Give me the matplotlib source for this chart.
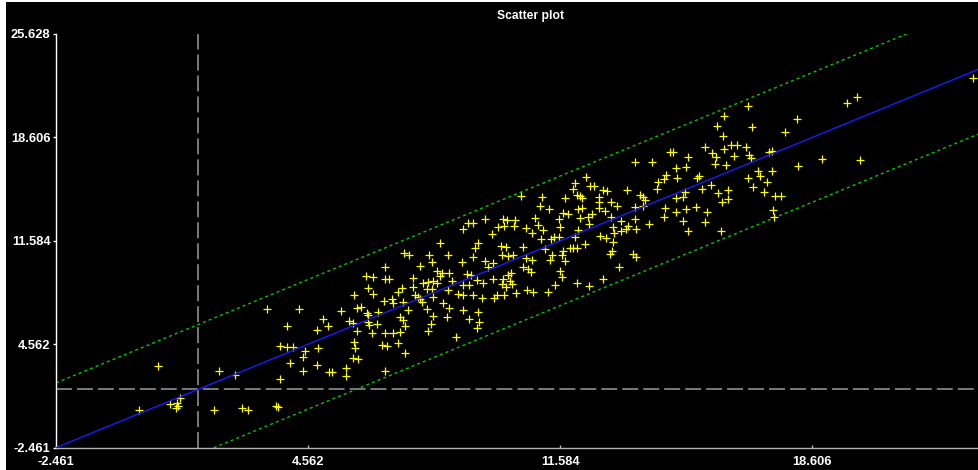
import matplotlib
matplotlib.use('Agg')
import matplotlib.pyplot as plt
from matplotlib.patches import Rectangle

plt.rcParams['lines.scale_dashes'] = False

# ---- data ----
x_vals = [
    23.09, 19.86, 19.58, 16.81, 16.14, 18.17, 19.93,
    15.96, 16.92, 17.85, 16.11, 15.62, 16.33, 16.52, 16.76, 16.15, 17.40, 17.47, 14.63, 14.73,
    15.14, 15.82, 15.91, 16.43, 16.85, 16.89, 13.68, 14.13, 15.90, 16.19, 18.22, 18.87, 17.08,
    17.16, 17.47, 14.80, 15.08, 16.82, 17.34, 15.44, 15.39, 14.32, 14.47, 14.52, 14.83, 15.79,
    16.95, 14.27, 15.53, 12.29, 12.00, 11.94, 12.41, 12.53, 13.45, 12.77, 12.88, 15.99, 16.27,
    17.27, 17.57, 17.73, 16.27, 16.08, 10.48, 11.07, 11.72, 12.04, 12.14, 12.19, 12.66, 12.66,
    13.01, 13.81, 13.88, 13.95, 14.80, 15.00, 15.06, 11.02, 11.27, 11.65, 11.79, 12.09, 12.20,
    12.67, 13.17, 12.82, 13.66, 13.90, 14.50, 14.80, 15.09, 15.37, 15.66, 10.88, 11.56, 12.14,
    12.35, 12.47, 13.01, 13.67, 14.48, 15.00, 15.62, 17.50, 17.53, 9.98, 10.09, 10.32, 10.02,
    10.30, 10.63, 10.97, 11.11, 11.58, 12.09, 12.38, 12.69, 12.87, 13.06, 13.08, 13.27, 13.27,
    13.42, 13.48, 13.69, 14.05, 15.14, 16.07, 10.81, 11.05, 11.32, 11.42, 11.56, 12.00, 12.27,
    13.06, 10.08, 9.93, 10.56, 11.16, 11.86, 11.95, 12.06, 11.67, 11.63, 9.95, 10.14, 10.26,
    10.63, 10.79, 11.35, 11.30, 11.73, 12.97, 13.04, 13.62, 13.69, 13.22, 10.56, 10.70, 10.77,
    11.59, 11.63, 10.20, 10.14, 10.00, 10.19, 10.23, 9.95, 10.07, 12.04, 12.39, 12.77, 11.44,
    10.65, 10.82, 11.24, 10.35, 10.02,
    9.49, 9.02, 9.15, 8.87, 9.86, 9.68, 8.24, 9.30, 9.21, 7.22, 7.38, 7.92, 8.45, 9.16, 8.00,
    8.85, 9.49, 9.72, 9.58, 7.68, 6.70, 8.14, 8.28, 8.24, 8.49, 8.98, 9.09, 9.26, 9.72, 6.17,
    6.38, 6.70, 6.82, 7.47, 7.77, 7.91, 8.05, 8.14, 8.56, 8.88, 9.05, 9.44, 6.24, 7.17, 7.49,
    7.86, 8.00, 8.47, 8.75, 8.88, 9.16, 9.40, 9.74, 9.81, 5.84, 6.36, 7.06, 7.54, 7.63, 7.68,
    8.05, 6.68, 6.89, 6.93, 7.21, 7.73, 8.33, 8.49, 8.88, 9.30, 3.41, 4.30, 5.49, 5.93, 6.03,
    6.19, 6.24, 6.52, 7.35, 7.86, 7.12, 7.21, 8.05, 8.42, 9.05, 9.33, 4.98, 5.71, 5.82, 6.24,
    6.27, 6.47, 7.26, 3.98, 5.12, 4.80, 5.92, 6.33, 6.70, 6.93, 7.12, 7.91, 7.98, 9.26, 8.68,
    3.78, 3.98, 4.15, 5.85, 5.87, 6.61, 6.75, 7.06, 4.85,
    0.37, -0.16, 0.71, 0.90, 0.93, 0.88, 1.00, 2.09, 2.53, 1.95, 2.71, 2.88, 3.67, 3.71, 4.47,
    4.06, 4.41, 4.80, 5.15, 3.78, 4.41,
    5.22, 5.62, 5.62, 5.80, 5.96, 7.26, 6.70,
]
y_vals = [
    22.66, 21.37, 20.94, 20.76, 20.04, 19.86, 17.07,
    19.38, 19.29, 18.95, 18.72, 17.94, 18.07, 18.11, 17.98, 17.80, 17.64, 17.68, 17.62, 17.62,
    17.30, 17.57, 17.26, 17.35, 17.41, 17.23, 16.92, 16.96, 16.78, 16.73, 16.67, 17.12, 16.35,
    16.01, 16.35, 16.51, 16.58, 15.87, 15.56, 15.99, 15.83, 15.60, 15.76, 16.06, 15.83, 15.38,
    15.26, 15.10, 15.12, 15.94, 15.49, 15.10, 15.33, 15.33, 15.02, 15.04, 14.97, 14.85, 15.04,
    14.88, 14.65, 14.61, 14.45, 14.20, 14.61, 14.54, 14.51, 14.70, 14.63, 14.47, 14.58, 14.24,
    14.24, 14.70, 14.54, 14.36, 14.47, 14.58, 14.92, 13.95, 13.75, 13.50, 13.41, 13.73, 13.79,
    13.79, 13.95, 13.61, 13.86, 13.95, 13.79, 13.52, 13.73, 13.86, 13.52, 13.16, 13.07, 13.16,
    13.20, 13.39, 13.22, 13.05, 13.20, 12.93, 12.84, 13.68, 13.22, 13.05, 13.00, 13.00, 12.59,
    12.59, 12.48, 12.66, 12.32, 12.54, 12.32, 12.71, 11.93, 11.78, 12.54, 12.10, 12.93, 12.27,
    12.41, 12.59, 12.37, 12.73, 12.25, 12.25, 12.14, 11.71, 11.69, 11.87, 11.87, 11.82, 11.37,
    11.49, 11.15, 11.23, 11.15, 11.01, 11.08, 11.08, 11.08, 10.91, 10.62, 10.62, 10.55, 10.60,
    10.40, 10.28, 10.62, 10.28, 10.24, 10.67, 10.89, 10.67, 10.51, 9.83, 9.83, 9.65, 9.49,
    9.54, 9.11, 9.42, 9.26, 8.97, 8.86, 8.65, 8.63, 8.47, 8.74, 8.54, 8.97, 8.59,
    8.25, 8.09, 8.09, 8.06, 7.91,
    13.07, 12.78, 12.78, 12.39, 12.54, 12.05, 11.46, 11.46, 11.12, 10.74, 10.62, 10.62, 10.62, 10.51, 10.17,
    10.17, 10.24, 10.06, 9.83, 9.88, 9.79, 9.56, 9.38, 9.20, 9.42, 9.33, 9.26, 8.93, 8.97, 9.20,
    9.11, 8.97, 8.97, 9.04, 8.74, 8.81, 8.86, 8.70, 8.86, 8.59, 8.59, 8.74, 8.40, 8.40, 8.43,
    8.29, 8.29, 8.25, 7.95, 7.91, 7.91, 7.72, 7.72, 7.91, 7.91, 7.95, 8.11, 7.91, 7.79, 7.61,
    7.79, 7.50, 7.64, 7.34, 7.45, 7.45, 7.34, 7.04, 6.89, 6.77, 6.94, 6.96, 6.84, 7.04, 7.11,
    6.71, 6.55, 6.73, 6.89, 6.94, 6.43, 6.21, 6.48, 6.43, 6.28, 6.09, 6.28, 6.16, 6.03, 6.09,
    5.87, 5.94, 5.80, 5.80, 5.80, 5.53, 5.48, 5.35, 5.35, 5.35, 5.39, 5.46, 5.94, 5.69, 5.08,
    4.44, 4.40, 4.40, 4.74, 4.29, 4.51, 4.46, 4.63, 4.29,
    3.09, 0.10, 0.49, 0.55, 0.37, 0.25, 0.93, 2.75, 2.45, 0.10, 0.21, 0.10, 0.37, 0.28, 4.12,
    3.31, 3.72, 3.15, 2.70, 2.20, 2.75,
    2.66, 2.93, 2.41, 3.65, 3.54, 3.95, 2.77,
]

fit_slope = 1.0
fit_intercept = 0.0
band_halfwidth = 4.4
cross_x = 1.5
cross_y = 1.5

x_limits = [-2.461, 23.25]
y_limits = [-2.461, 25.628]
x_ticks = [-2.461, 4.562, 11.584, 18.606]
y_ticks = [-2.461, 4.562, 11.584, 18.606, 25.628]
x_tick_labels = ['-2.461', '4.562', '11.584', '18.606']
y_tick_labels = ['-2.461', '4.562', '11.584', '18.606', '25.628']
title_text = 'Scatter plot'

# ---- figure ----
W, H = 979, 470
fig = plt.figure(figsize=(W / 100, H / 100), dpi=100, facecolor='black')
ax = fig.add_axes([56 / W, 22.3 / H, (W - 56) / W, 413.7 / H])
ax.set_facecolor('black')
ax.set_xlim(*x_limits)
ax.set_ylim(*y_limits)

line_x = [x_limits[0], x_limits[1]]
fit_y = [fit_intercept + fit_slope * v for v in line_x]
up_y = [v + band_halfwidth for v in fit_y]
lo_y = [v - band_halfwidth for v in fit_y]

ax.plot(line_x, up_y, color='#00c800', lw=1.0, dashes=(2.2, 2.2), zorder=2)
ax.plot(line_x, lo_y, color='#00c800', lw=1.0, dashes=(2.2, 2.2), zorder=2)
ax.axvline(cross_x, color='#9a9a9a', lw=1.1, dashes=(11.5, 3.6), zorder=1)
ax.axhline(cross_y, color='#9a9a9a', lw=1.1, dashes=(11.5, 3.6), zorder=1)
ax.plot(x_vals, y_vals, linestyle='none', marker='+', markersize=5.5,
        markeredgewidth=0.9, color='#ffff00', zorder=3)
ax.plot(line_x, fit_y, color='#1a1aff', lw=1.0, zorder=4)

for s in ['top', 'right']:
    ax.spines[s].set_visible(False)
ax.spines['left'].set_color('white')
ax.spines['left'].set_linewidth(1.0)
ax.spines['bottom'].set_color('#b4b4b4')
ax.spines['bottom'].set_linewidth(1.0)

font_kw = dict(family=['Liberation Sans', 'DejaVu Sans'], weight='bold')
ax.set_xticks(x_ticks)
ax.set_xticklabels(x_tick_labels, color='white', fontsize=9.3, **font_kw)
ax.set_yticks(y_ticks)
ax.set_yticklabels(y_tick_labels, color='white', fontsize=9.3, **font_kw)
ax.tick_params(axis='x', direction='in', length=2.5, width=1, color='#b4b4b4', pad=6)
ax.tick_params(axis='y', direction='out', length=2.5, width=1, color='white', pad=1.5)

fig.text(530.5 / W, 1 - 16 / H, title_text, ha='center', va='center', color='white',
         fontsize=8.7, **font_kw)

# thin light frame at the left and top edges of the screenshot
fig.patches.append(Rectangle((0, 0), 6.5 / W, 1, transform=fig.transFigure,
                             facecolor='white', edgecolor='none', zorder=10))
fig.patches.append(Rectangle((0, 1 - 2 / H), 1, 2 / H, transform=fig.transFigure,
                             facecolor='white', edgecolor='none', zorder=10))

fig.savefig('out.png', dpi=100, facecolor='black')
